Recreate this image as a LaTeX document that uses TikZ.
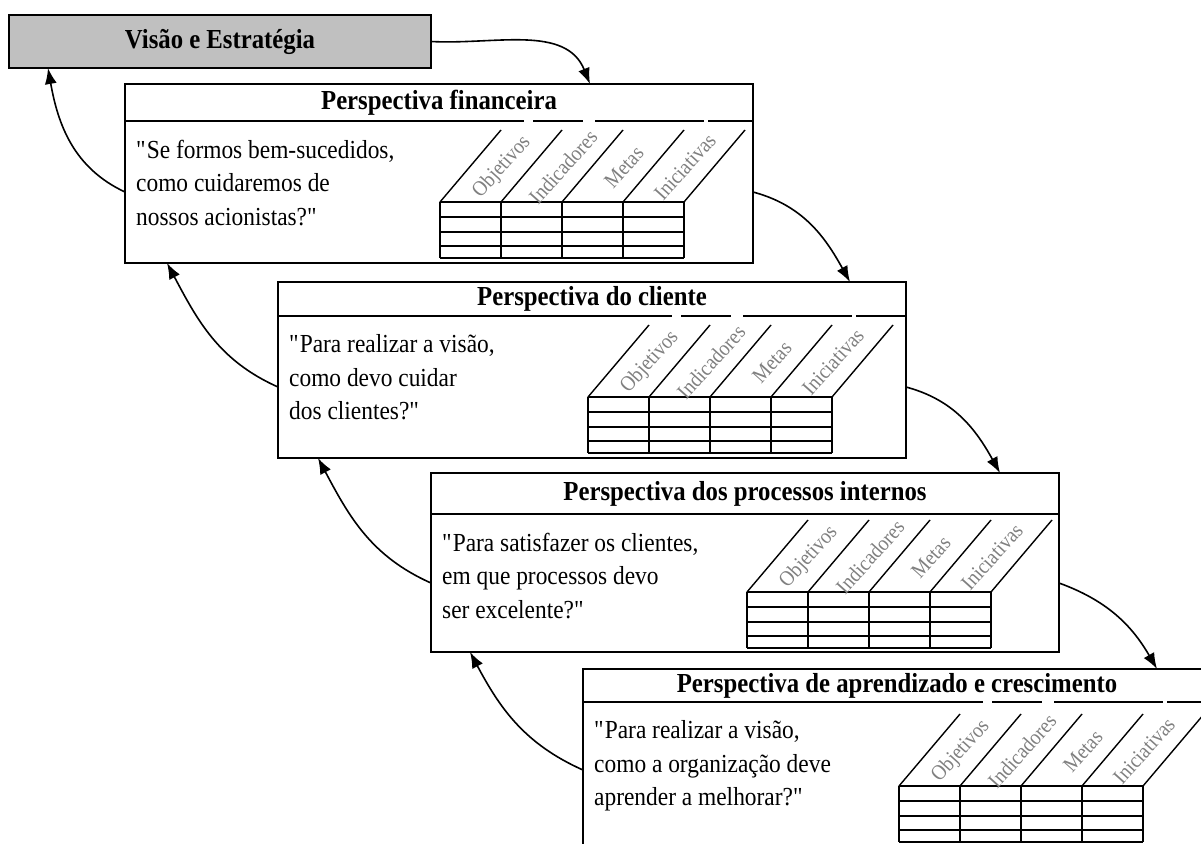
\documentclass[tikz,border=0pt]{standalone}
\usepackage{fontspec}
\setmainfont{Liberation Serif}[FakeStretch=0.9]
\usetikzlibrary{calc,arrows.meta}

\definecolor{visgray}{HTML}{C0C0C0}
\definecolor{labelgray}{HTML}{808080}

\tikzset{
  frame/.style={draw=black, line width=1.6pt, inner sep=0pt, outer sep=0pt, anchor=north west},
  visionbox/.style={frame, fill=visgray, font=\fontsize{27.5}{30}\selectfont\bfseries},
  headbox/.style={frame, fill=white, font=\fontsize{27.5}{30}\selectfont\bfseries},
  bodybox/.style={frame, fill=white},
  qtext/.style={anchor=north west, align=left, inner sep=0pt, font=\fontsize{26}{33.5}\selectfont},
  collabel/.style={text=labelgray, font=\fontsize{21.5}{22}\selectfont, rotate=48, inner sep=0pt},
  gridline/.style={line width=1.4pt},
  gapline/.style={draw=white, line width=3pt},
  flow/.style={line width=1.6pt, -{Latex[length=16pt,width=12pt]}},
}

\newcommand\dq{\textquotedbl}

% #1 name, #2 left, #3 top, #4 header line, #5 bottom, #6 table left, #7 table top, #8 title, #9 question
\newcommand\perspbox[9]{%
  \pgfmathsetmacro\hdh{#4-#3}%
  \pgfmathsetmacro\bdh{#5-#4}%
  \node[headbox, minimum width=628pt, minimum height=\hdh pt] (#1h) at (#2,#3) {#8};
  \node[bodybox, minimum width=628pt, minimum height=\bdh pt] (#1b) at (#2,#4) {};
  \node[qtext] (#1q) at ($(#2,#4)+(11,18.5)$) {#9};
  % slanted column heads and the grid below them
  \foreach \k in {0,...,4} {
    \draw[gridline] ($(#6,#7)+(61*\k,0)$) -- ++(61,-72);
    \draw[gridline] ($(#6,#7)+(61*\k,0)$) -- ++(0,56);
  }
  \foreach \r in {0,15,30,44,56}
    \draw[gridline] ($(#6,#7)+(0,\r)$) -- ++(244,0);
  \foreach \lab [count=\k from 0] in {Objetivos,Indicadores,Metas,Iniciativas}
    \node[collabel] at ($(#6,#7)+(61*\k+62,-35)$) {\lab};
}

% small breaks in a header line above the column heads
\newcommand\headgaps[2]{%
  \draw[gapline] ($(#1,#2)+(84,0)$) -- ++(9,0);
  \draw[gapline] ($(#1,#2)+(143,0)$) -- ++(12,0);
  \draw[gapline] ($(#1,#2)+(264,0)$) -- ++(4,0);
}

\begin{document}
\begin{tikzpicture}[x=1pt,y=-1pt]
  \useasboundingbox (0,0) rectangle (1201,843);
  \clip (0,0) rectangle (1201,843);
  \fill[white] (0,0) rectangle (1201,843);

  \node[visionbox, minimum width=422pt, minimum height=53pt] (v) at (9,15) {Visão e Estratégia};

  \perspbox{p1}{125}{84}{121}{263}{440}{202}{Perspectiva financeira}
    {\dq Se formos bem-sucedidos,\\como cuidaremos de\\nossos acionistas?\dq}
  \headgaps{440}{121}
  \perspbox{p2}{278}{282}{316}{458}{588}{397}{Perspectiva do cliente}
    {\dq Para realizar a visão,\\como devo cuidar\\dos clientes?\dq}
  \headgaps{588}{316}
  \perspbox{p3}{431}{473}{514}{652}{747}{592}{Perspectiva dos processos internos}
    {\dq Para satisfazer os clientes,\\em que processos devo\\ser excelente?\dq}
  \perspbox{p4}{583}{669}{702}{900}{899}{786}{Perspectiva de aprendizado e crescimento}
    {\dq Para realizar a visão,\\como a organização deve\\aprender a melhorar?\dq}
  \headgaps{899}{702}

  % forward flow, down the cascade
  \draw[flow] (v.east) to[out=-3,in=112] ($(p1h.north west)+(465,0)$);
  \draw[flow] (p1b.east) to[out=-15,in=119] ($(p2h.north west)+(572,0)$);
  \draw[flow] (p2b.east) to[out=-15,in=119] ($(p3h.north west)+(569,0)$);
  \draw[flow] (p3b.east) to[out=-20,in=120] ($(p4h.north west)+(574,0)$);

  % feedback flow, back up the cascade
  \draw[flow] (p1b.west) to[out=155,in=-80] ($(v.south west)+(39,0)$);
  \draw[flow] (p2b.west) to[out=156,in=-62] ($(p1b.south west)+(42,0)$);
  \draw[flow] (p3b.west) to[out=156,in=-62] ($(p2b.south west)+(40,0)$);
  \draw[flow] ($(p4h.south west)+(0,68)$) to[out=156,in=-62] ($(p3b.south west)+(39,0)$);
\end{tikzpicture}
\end{document}
